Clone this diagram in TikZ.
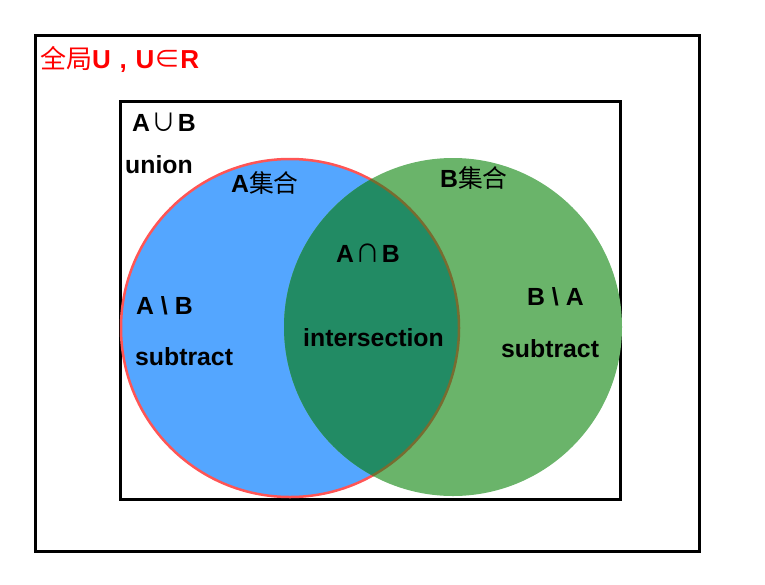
\documentclass[tikz,border=0pt]{standalone}
\usepackage{fontspec}
\setmainfont{Liberation Sans}
\newfontfamily\cjk{Noto Sans CJK SC}
\definecolor{setA}{RGB}{84,166,255}
\definecolor{setB}{RGB}{106,180,106}
\definecolor{both}{RGB}{34,139,100}
\definecolor{rimA}{RGB}{255,85,85}
\definecolor{rimAB}{RGB}{120,108,48}
\tikzset{
  frame/.style={draw=black, line width=3pt},
  lbl/.style={anchor=base west, inner sep=0pt, font=\fontsize{24.8}{28}\selectfont\bfseries},
}
\begin{document}
\begin{tikzpicture}[x=1pt, y=-1pt]
            \useasboundingbox (0,0) rectangle (765,584);
            \path (35,35) coordinate (u0) (699,551) coordinate (u1);
            \path (120,101) coordinate (r0) (620,499) coordinate (r1);
            \path (290,328) coordinate (cA) (453,327) coordinate (cB);
            \draw[frame] (u0) rectangle (u1);
            \draw[frame] (r0) rectangle (r1);
            % the two sets
            \fill[setA] (cA) circle (169);
            \draw[rimA, line width=2.5pt] (cA) circle (169);
            \fill[setB] (cB) circle (169);
            \begin{scope}
              \clip (cB) circle (169);
              \fill[both] (cA) circle (169);
              \draw[rimAB, line width=2.5pt] (cA) circle (169);
            \end{scope}
            % texts
            \path (40,68) node[name=univ, lbl, text=red, font=\fontsize{26}{30}\selectfont\bfseries] {{\mdseries\cjk 全局}U\,\,,\,\,U{\mdseries\cjk ∈}R};
            \path (132,131) node[name=uni, lbl] {A\kern1.5pt{\mdseries\cjk ∪}\kern1.5pt B};
            \path (125,173) node[name=unilbl, lbl] {union};
            \path (231,192) node[name=nameA, lbl] {A{\mdseries\cjk 集合}};
            \path (440,187) node[name=nameB, lbl] {B{\mdseries\cjk 集合}};
            \path (336,262) node[name=cap, lbl] {A\kern1.5pt{\mdseries\cjk ∩}\kern1.5pt B};
            \path (303,346) node[name=caplbl, lbl] {intersection};
            \path (136,314) node[name=AminB, lbl] {A \textbackslash{} B};
            \path (135,365) node[name=AminBlbl, lbl] {subtract};
            \path (527,305) node[name=BminA, lbl] {B \textbackslash{} A};
            \path (501,357) node[name=BminAlbl, lbl] {subtract};
        \end{tikzpicture}
\end{document}
